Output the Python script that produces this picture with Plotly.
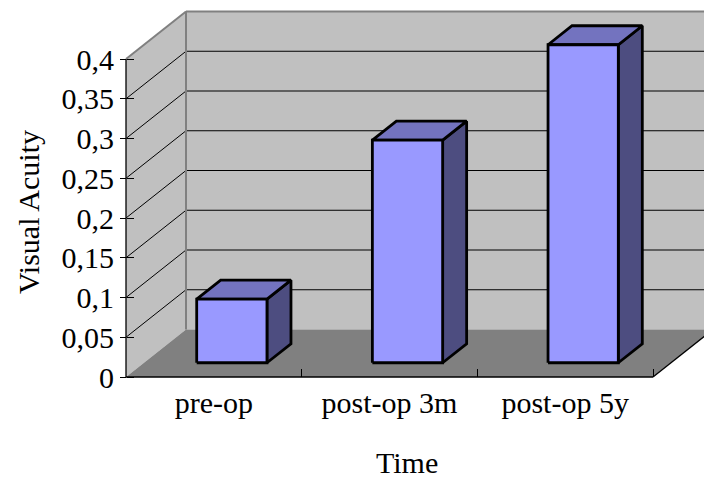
import plotly.graph_objects as go

# ---- data -------------------------------------------------------------
categories = ["pre-op", "post-op 3m", "post-op 5y"]
acuity = [0.08, 0.28, 0.40]
y_ticks = [0, 0.05, 0.1, 0.15, 0.2, 0.25, 0.3, 0.35, 0.4]
y_tick_text = ["0", "0,05", "0,1", "0,15", "0,2", "0,25", "0,3", "0,35", "0,4"]
y_max = 0.4
x_title = "Time"
y_title = "Visual Acuity"

# ---- geometry of the pseudo-3D box --------------------------------------
W, H = 704, 480
PAD = 4                      # room so edge lines are not clipped
AX_X, AX_Y = 126, 377        # pixel position of the front-left-bottom corner
CAT_PX = 175.67              # pixels per category on the front plane
VAL_PX = 795.0               # pixels per value unit
DEPTH_PX = (60.0, 47.5)      # screen offset of the full box depth

M_L = AX_X - PAD
M_B = H - AX_Y - PAD
plot_w = W - M_L
plot_h = H - M_B

x_lo = -0.5 - PAD / CAT_PX
x_hi = x_lo + plot_w / CAT_PX
y_lo = -PAD / VAL_PX
y_hi = y_lo + plot_h / VAL_PX

DX = DEPTH_PX[0] / CAT_PX
DY = DEPTH_PX[1] / VAL_PX

BAR_HALF = 0.2               # bar width 0.4 of a category (gap 150%)
BAR_D0, BAR_D1 = 0.3, 0.7    # bar depth range (gap depth 150%)

WALL = "#c0c0c0"
FLOOR = "#808080"
EDGE = "#808080"
FRONT = "#9999ff"
TOP = "#7373bf"
SIDE = "#4d4d80"
FONT = "Liberation Serif"
FONT_SIZE = 30


def proj(x, v, d):
    """Project (category, value, depth) onto the front plane."""
    return x + d * DX, v + d * DY


def poly(points, fill, line_color="rgba(0,0,0,0)", line_width=0):
    xs = [p[0] for p in points] + [points[0][0]]
    ys = [p[1] for p in points] + [points[0][1]]
    return go.Scatter(x=xs, y=ys, mode="lines", fill="toself", fillcolor=fill,
                      line=dict(color=line_color, width=line_width),
                      hoverinfo="skip", showlegend=False)


def segments(pairs, color, width):
    xs, ys = [], []
    for a, b in pairs:
        xs += [a[0], b[0], None]
        ys += [a[1], b[1], None]
    return go.Scatter(x=xs, y=ys, mode="lines",
                      line=dict(color=color, width=width),
                      hoverinfo="skip", showlegend=False)


n = len(categories)
left = -0.5
right = n - 0.5
far = right + 2  # beyond the visible area on the right

fig = go.Figure()

# walls and floor
fig.add_trace(poly([proj(left, 0, 1), proj(far, 0, 1), proj(far, y_max, 1),
                    proj(left, y_max, 1)], WALL))
fig.add_trace(poly([proj(left, 0, 0), proj(left, y_max, 0), proj(left, y_max, 1),
                    proj(left, 0, 1)], WALL))
fig.add_trace(poly([proj(left, 0, 0), proj(right, 0, 0), proj(right, 0, 1),
                    proj(left, 0, 1)], FLOOR))

# gridlines on the back and side walls
grid_pairs = []
for v in y_ticks[1:-1]:
    grid_pairs.append((proj(left, v, 0), proj(left, v, 1)))
    grid_pairs.append((proj(left, v, 1), proj(far, v, 1)))
fig.add_trace(segments(grid_pairs, "black", 1))

# wall edges
fig.add_trace(segments([
    (proj(left, y_max, 0), proj(left, y_max, 1)),
    (proj(left, y_max, 1), proj(far, y_max, 1)),
    (proj(left, 0, 1), proj(left, y_max, 1)),
], EDGE, 2))

# front edges of the box
fig.add_trace(segments([
    (proj(left, 0, 0), proj(left, y_max, 0)),
    (proj(left, 0, 0), proj(right, 0, 0)),
    (proj(right, 0, 0), proj(right, 0, 1)),
], "black", 1.3))

# bars
for i, v in enumerate(acuity):
    x0, x1 = i - BAR_HALF, i + BAR_HALF
    fig.add_trace(poly([proj(x1, 0, BAR_D0), proj(x1, 0, BAR_D1),
                        proj(x1, v, BAR_D1), proj(x1, v, BAR_D0)],
                       SIDE, "black", 2.8))
    fig.add_trace(poly([proj(x0, v, BAR_D0), proj(x1, v, BAR_D0),
                        proj(x1, v, BAR_D1), proj(x0, v, BAR_D1)],
                       TOP, "black", 2.8))
    fig.add_trace(poly([proj(x0, 0, BAR_D0), proj(x1, 0, BAR_D0),
                        proj(x1, v, BAR_D0), proj(x0, v, BAR_D0)],
                       FRONT, "black", 2.8))

# dummy trace so the overlay axis (inner half of the y ticks) is drawn
fig.add_trace(go.Scatter(x=[None], y=[None], yaxis="y2", showlegend=False,
                         hoverinfo="skip"))

y_pos = PAD / plot_w
x_pos = PAD / plot_h

fig.update_layout(
    width=W, height=H,
    margin=dict(l=M_L, r=0, t=0, b=M_B, pad=0),
    paper_bgcolor="white", plot_bgcolor="white",
    showlegend=False,
    font=dict(family=FONT, size=FONT_SIZE, color="black"),
    xaxis=dict(range=[x_lo, x_hi], anchor="free", position=x_pos,
               tickmode="array", tickvals=list(range(n)), ticktext=categories,
               ticks="", showgrid=False, zeroline=False, showline=False,
               ticklabelstandoff=5,
               minor=dict(tickmode="array", tickvals=[i + 0.5 for i in range(n)],
                          ticks="inside", ticklen=8, tickwidth=1,
                          tickcolor="black", showgrid=False)),
    yaxis=dict(range=[y_lo, y_hi], anchor="free", position=y_pos,
               tickmode="array", tickvals=y_ticks, ticktext=y_tick_text,
               ticks="outside", ticklen=6, tickwidth=1, tickcolor="black",
               showgrid=False, zeroline=False, showline=False),
    yaxis2=dict(range=[y_lo, y_hi], overlaying="y", anchor="free",
                position=y_pos, side="left", tickmode="array",
                tickvals=y_ticks, ticks="inside", ticklen=7, tickwidth=1,
                tickcolor="black", showticklabels=False, showgrid=False,
                zeroline=False, showline=False),
    annotations=[
        dict(text=y_title, textangle=-90, xref="paper", yref="paper",
             x=(28 - M_L) / plot_w, y=(H - M_B - 212) / plot_h,
             xanchor="center", yanchor="middle", showarrow=False,
             font=dict(family=FONT, size=FONT_SIZE)),
        dict(text=x_title, xref="paper", yref="paper",
             x=(407 - M_L) / plot_w, y=(H - M_B - 463) / plot_h,
             xanchor="center", yanchor="middle", showarrow=False,
             font=dict(family=FONT, size=FONT_SIZE)),
    ],
)

fig.write_html("out.html")
